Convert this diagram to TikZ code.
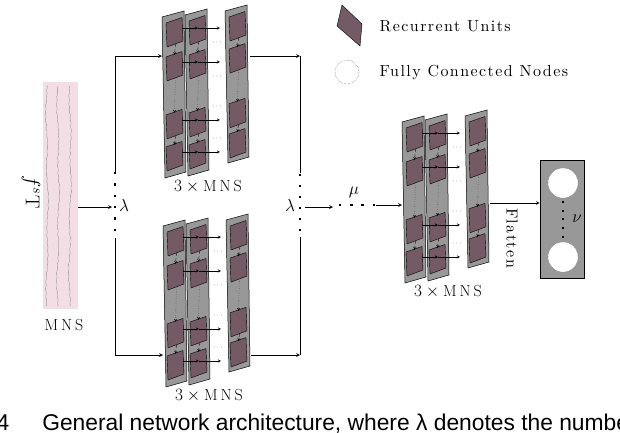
\documentclass[tikz,border=0pt]{standalone}
\usepackage{fontspec}
\newfontfamily\legendfont{lmroman10-regular.otf}[LetterSpace=9]
\newfontfamily\captionfont{Liberation Sans}
\usetikzlibrary{calc}

\definecolor{unitmauve}{RGB}{116,90,100}
\definecolor{panelgray}{RGB}{152,152,152}
\definecolor{signalpink}{RGB}{243,222,229}
\definecolor{tracegray}{RGB}{140,140,140}

\tikzset{
  panelbox/.style={draw=black,fill=panelgray,line width=0.5pt},
  unitbox/.style={draw=black,fill=unitmauve,line width=0.4pt},
  innerlink/.style={->,line width=0.35pt},
  rowlink/.style={->,line width=0.45pt},
  conn/.style={->,line width=0.7pt},
  dotmark/.style={rectangle,fill=black,inner sep=0pt,minimum size=2.4pt},
}

% one slanted layer with four recurrent units
\newcommand{\rnnpanel}[4]{%
  \begin{scope}[shift={(#1,#2)}]
    \draw[panelbox] (0,0) -- (22,-6) -- (24,#3-6) -- (3,#3) -- cycle;
    \foreach \k/\r in {1/0,2/0.211,3/0.571,4/0.77}{
      \pgfmathsetmacro\o{\r*#3}
      \draw[unitbox] (4,6+\o) -- (20,0.5+\o) -- (21,24+\o) -- (5,30+\o) -- cycle;
      \coordinate (#4\k) at (13,11+\o);
    }
  \end{scope}
  \draw[innerlink,densely dashed] ($(#41)+(0.5,16)$) -- ($(#42)+(-0.5,-7)$);
  \draw[innerlink,dotted] ($(#42)+(0.5,16)$) -- ($(#43)+(-0.5,-7)$);
  \draw[innerlink,densely dashed] ($(#43)+(0.5,16)$) -- ($(#44)+(-0.5,-7)$);
}

% three layers, row links and label
\newcommand{\rnnstack}[3]{%
  \rnnpanel{#1}{#2}{161}{#3a}
  \rnnpanel{#1+23}{#2-2}{161}{#3b}
  \rnnpanel{#1+63}{#2-6}{152}{#3c}
  \foreach \k in {1,...,4}{
    \draw[rowlink,shorten <=7pt] (#3a\k) -- (#3a\k -| #3b\k);
    \draw[rowlink] (#3a\k -| #3b\k) -- ++(22,0);
  }
  \foreach \d in {26,60,90,122}
    \node[text=black!70,font=\fontsize{8}{8}\selectfont] at (#1+55,#2+\d) {$\cdots$};
  \node (#3lbl) at (#1+46,#2+170) {$3\times\mathrm{M\,N\,\bar{S}}$};
}

\begin{document}
\begin{tikzpicture}[x=1pt,y=-1pt,>=stealth,line width=0.6pt,font=\legendfont\fontsize{16}{19}\selectfont]
  \clip (0,0) rectangle (620,432);

  \node[fill=signalpink,minimum width=35pt,minimum height=227pt,inner sep=0pt] (signal) at (60.5,195.5) {};
  \foreach \t/\p in {47/0,58/40,70/80}
    \draw[tracegray,line width=0.35pt] plot[domain=86:306,samples=150,variable=\s]
      ({\t+0.3*sin(\s*47+\p)+1.4*sin(\s*4+\p)*sin(\s*2.3)},\s);
  \node[rotate=-90,font=\fontsize{20}{24}\selectfont] (fslabel) at (31,192) {$f^{s}\mathrm{T}$};
  \node (signallbl) at (64,325) {$\mathrm{M\,N\,\bar{S}}$};

  \foreach \k in {0,...,5}
    \node[dotmark] (lamLd\k) at (115,173+11.4*\k) {};
  \coordinate (lamL) at (112,207);
  \coordinate (splitT) at (115,172);
  \coordinate (splitB) at (115,238);
  \coordinate (topin) at (162,56);
  \coordinate (botin) at (163,355);
  \draw[conn] (signal.east |- lamL) -- (lamL);
  \node (lamLlbl) at (124,205) {$\lambda$};
  \draw[conn] (splitT) |- (topin);
  \draw[conn] (splitB) |- (botin);

  \rnnstack{162}{17}{top}
  \rnnstack{163}{226}{bot}

  \coordinate (topout) at (250,56);
  \coordinate (cornerT) at (300,56);
  \coordinate (mergeT) at (300,173);
  \coordinate (botout) at (251,355);
  \coordinate (cornerB) at (300,355);
  \coordinate (mergeB) at (300,237);
  \draw[conn] (topout) -- (cornerT);
  \draw (cornerT) -- (mergeT);
  \draw[conn] (botout) -- (cornerB);
  \draw (cornerB) -- (mergeB);
  \foreach \k in {0,...,5}
    \node[dotmark] (lamRd\k) at (300,175+11*\k) {};
  \node (lamRlbl) at (290,205) {$\lambda$};

  \coordinate (lamR) at (305,207);
  \coordinate (muin) at (333,207);
  \draw[conn] (lamR) -- (muin);
  \foreach \k in {0,...,3}
    \node[dotmark] (mud\k) at (340+11.3*\k,205) {};
  \node (mulbl) at (354,192) {$\mu$};
  \coordinate (muout) at (376,205);
  \coordinate (midin) at (402,205);
  \draw[conn] (muout) -- (midin);

  \rnnstack{402}{122}{mid}

  \node[draw=black,fill=panelgray,minimum width=44pt,minimum height=118pt,inner sep=0pt] (fc) at (562,219) {};
  \node[circle,fill=white,draw=black!70,densely dotted,line width=0.4pt,minimum size=30pt] (fcu) at (563,183) {};
  \node[circle,fill=white,draw=black!70,densely dotted,line width=0.4pt,minimum size=30pt] (fcl) at (563,257) {};
  \foreach \k in {0,...,4}
    \node[dotmark,minimum size=2pt] (fcd\k) at (563,202+8.7*\k) {};
  \node (nulbl) at (577,219) {$\nu$};
  \coordinate (midout) at (490,203);
  \draw[conn] (midout) -- (fc.west |- midout);
  \node[rotate=-90] (flatlbl) at (512,238) {Flatten};

  \draw[unitbox] (342,5) -- (362,24) -- (360,46) -- (337,26) -- cycle;
  \node[anchor=west] (lgunit) at (376,26) {Recurrent Units};
  \node[circle,draw=black!70,densely dotted,line width=0.4pt,minimum size=24pt] (lgfc) at (347,72) {};
  \node[anchor=west] (lgfctext) at (376,72) {Fully Connected Nodes};

  \node[anchor=base east,inner sep=0pt,font=\captionfont\fontsize{22.8}{26}\selectfont] (fignum) at (9.5,430) {4};
  \node[anchor=base west,inner sep=0pt,font=\captionfont\fontsize{22.8}{26}\selectfont] (caption) at (42,430) {General network architecture, where λ denotes the numbe};
\end{tikzpicture}
\end{document}
